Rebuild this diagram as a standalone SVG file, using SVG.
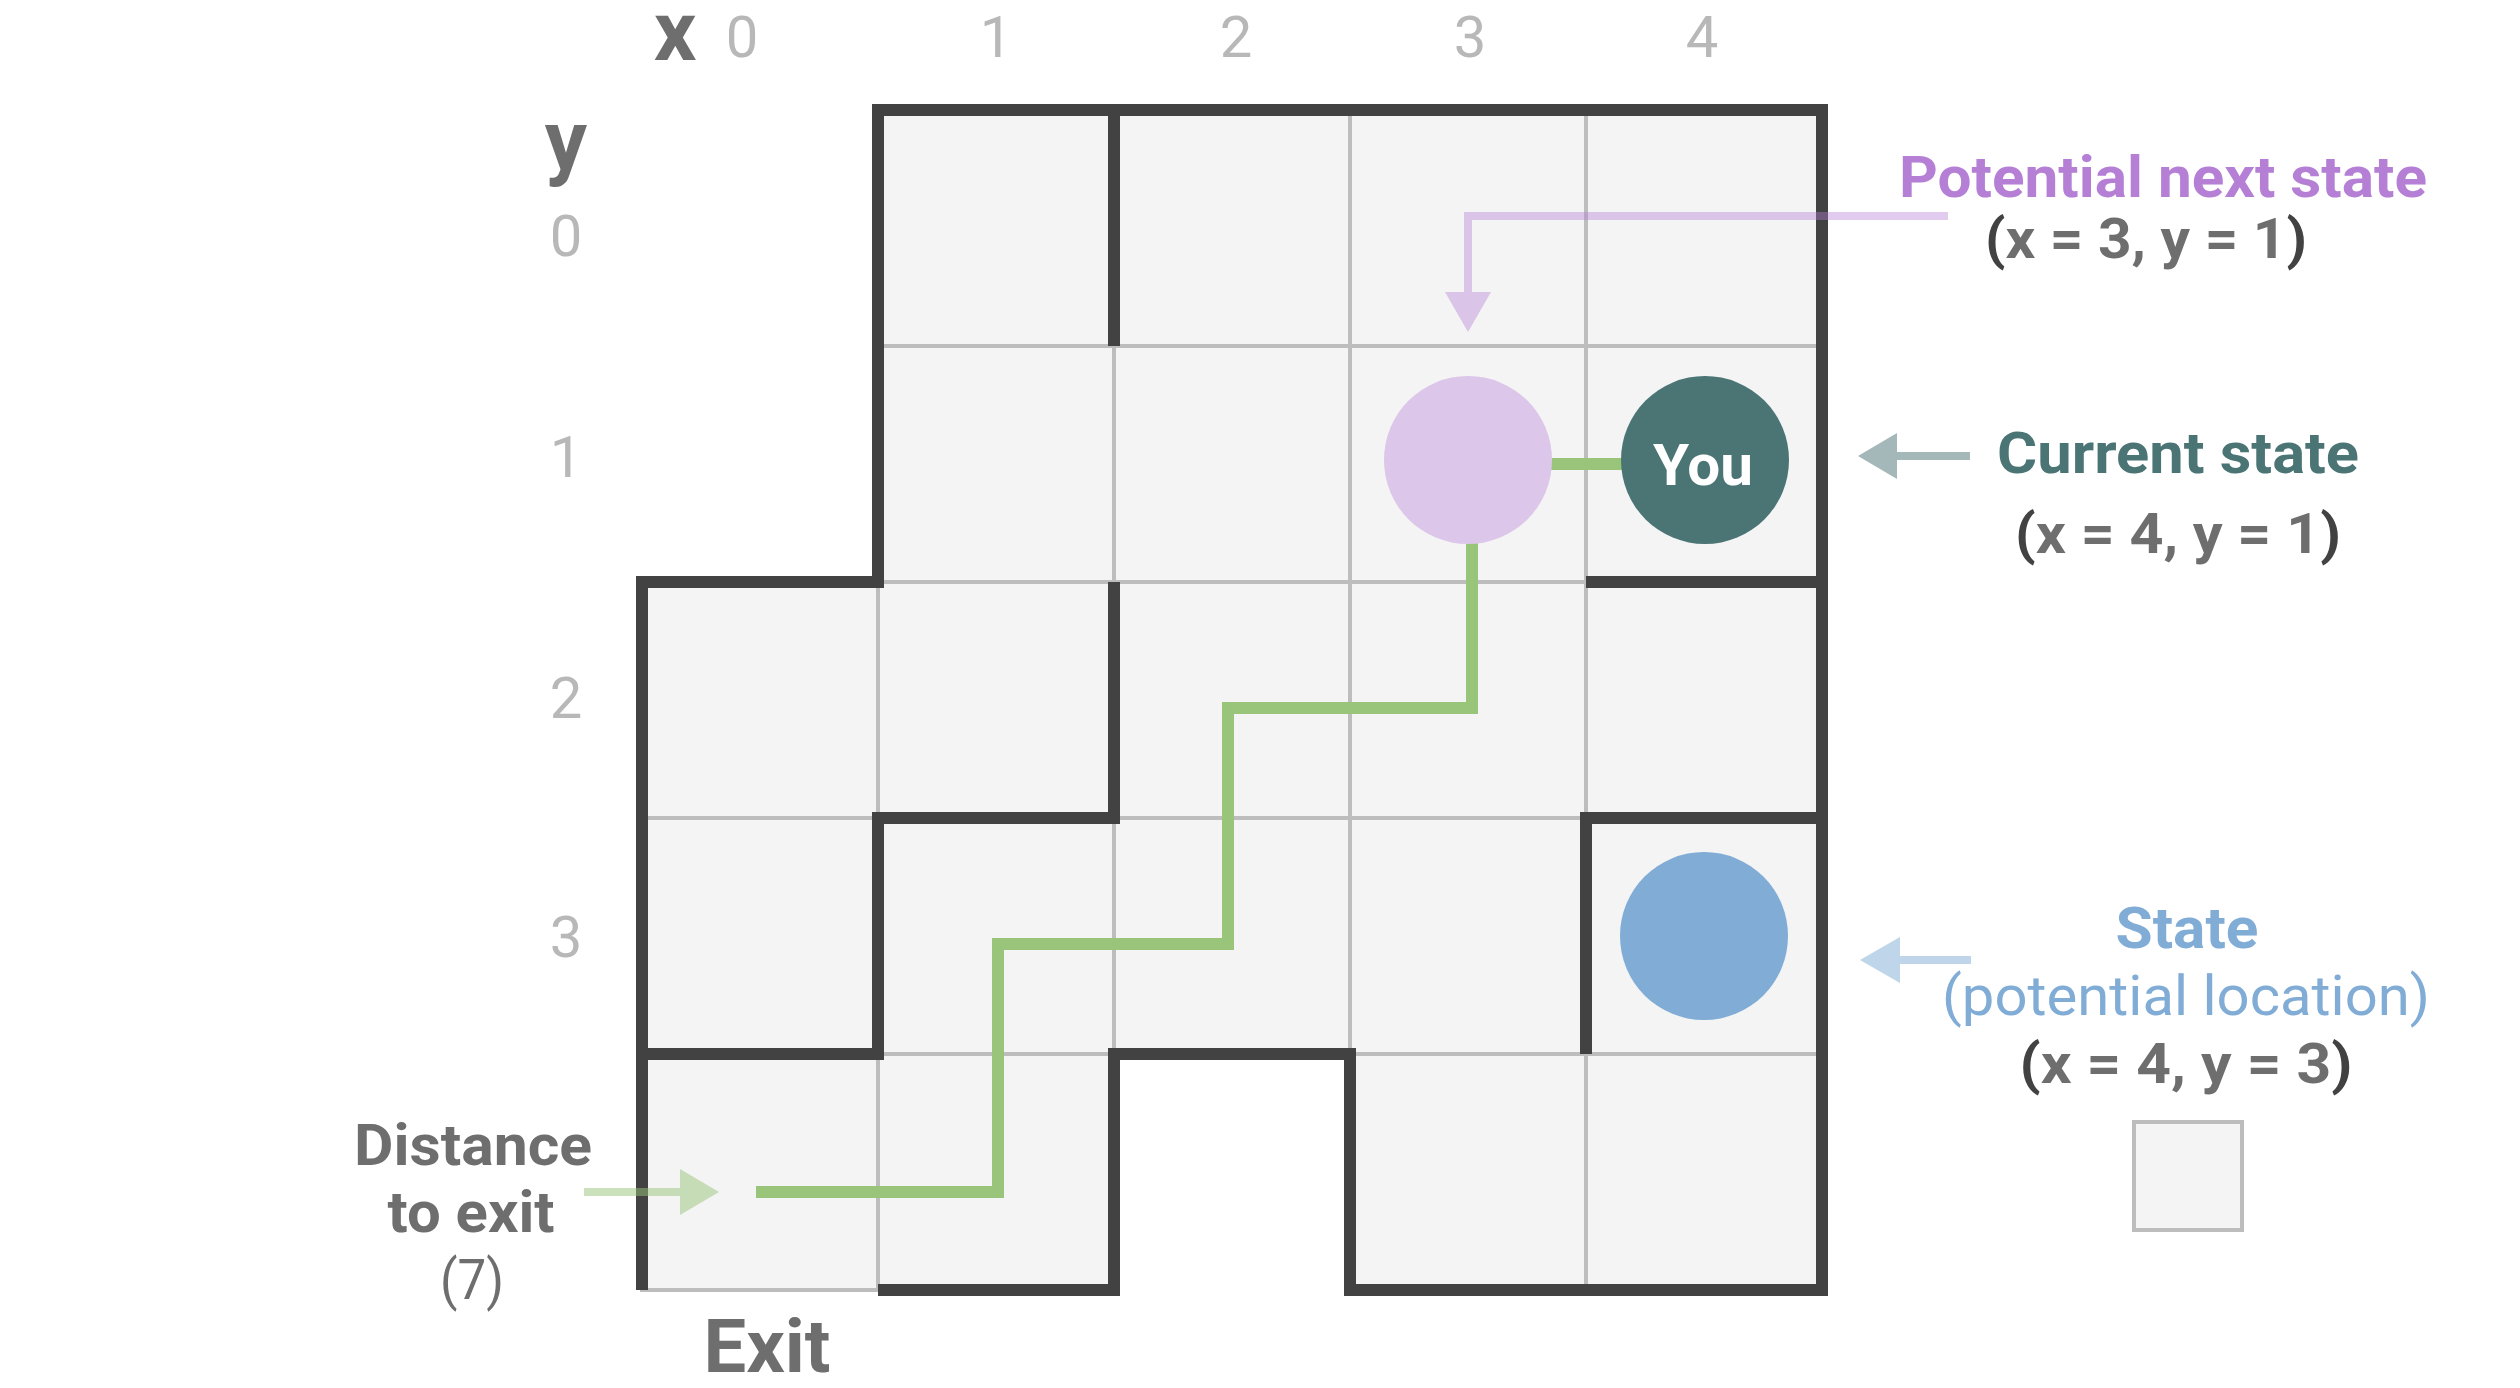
<svg xmlns="http://www.w3.org/2000/svg" width="2520" height="1388" viewBox="0 0 2520 1388">
<style>
  .cell{fill:#f4f4f4;stroke:#bdbdbd;stroke-width:4}
  .wall{fill:none;stroke:#424242;stroke-width:12;stroke-linecap:butt;stroke-linejoin:miter}
  .t{font-family:Roboto,"Liberation Sans",sans-serif;text-anchor:middle}
  .b{font-weight:700}
  .axis{fill:#b8b8b8;font-size:58px}
  .gray{fill:#6e6e6e}
  .par{fill:#424242}
</style>
<rect width="2520" height="1388" fill="#ffffff"/>
<g id="maze-cells">
  <rect class="cell" x="878" y="110" width="236" height="236"/>
  <rect class="cell" x="1114" y="110" width="236" height="236"/>
  <rect class="cell" x="1350" y="110" width="236" height="236"/>
  <rect class="cell" x="1586" y="110" width="236" height="236"/>
  <rect class="cell" x="878" y="346" width="236" height="236"/>
  <rect class="cell" x="1114" y="346" width="236" height="236"/>
  <rect class="cell" x="1350" y="346" width="236" height="236"/>
  <rect class="cell" x="1586" y="346" width="236" height="236"/>
  <rect class="cell" x="642" y="582" width="236" height="236"/>
  <rect class="cell" x="878" y="582" width="236" height="236"/>
  <rect class="cell" x="1114" y="582" width="236" height="236"/>
  <rect class="cell" x="1350" y="582" width="236" height="236"/>
  <rect class="cell" x="1586" y="582" width="236" height="236"/>
  <rect class="cell" x="642" y="818" width="236" height="236"/>
  <rect class="cell" x="878" y="818" width="236" height="236"/>
  <rect class="cell" x="1114" y="818" width="236" height="236"/>
  <rect class="cell" x="1350" y="818" width="236" height="236"/>
  <rect class="cell" x="1586" y="818" width="236" height="236"/>
  <rect class="cell" x="642" y="1054" width="236" height="236"/>
  <rect class="cell" x="878" y="1054" width="236" height="236"/>
  <rect class="cell" x="1350" y="1054" width="236" height="236"/>
  <rect class="cell" x="1586" y="1054" width="236" height="236"/>
</g>
<g id="maze-walls">
  <path class="wall" d="M642,1290 V582 H878 V110 H1822 V1290 H1350 V1054 H1114 V1290 H878"/>
  <path class="wall" d="M1114,110 V346"/>
  <path class="wall" d="M1114,582 V818 H878 V1054 H642"/>
  <path class="wall" d="M1822,582 H1586"/>
  <path class="wall" d="M1822,818 H1586 V1054"/>
</g>
<g id="axes">
  <text class="t b gray" x="675" y="60" font-size="84">x</text>
  <text class="t axis" x="742" y="57">0</text>
  <text class="t axis" x="996" y="57">1</text>
  <text class="t axis" x="1236" y="57">2</text>
  <text class="t axis" x="1470" y="57">3</text>
  <text class="t axis" x="1702" y="57">4</text>
  <text class="t b gray" x="566" y="169" font-size="84">y</text>
  <text class="t axis" x="566" y="256">0</text>
  <text class="t axis" x="566" y="477">1</text>
  <text class="t axis" x="566" y="718">2</text>
  <text class="t axis" x="566" y="957">3</text>
</g>
<g id="connectors">
  <path id="path-to-exit" d="M756,1192 H998 V944 H1228 V708 H1472 V464 H1705" fill="none" stroke="#98c57a" stroke-width="12" stroke-linejoin="miter"/>
  <g id="arrow-next" opacity="0.4" fill="#b57fd6">
    <path d="M1948,216 H1468 V294" fill="none" stroke="#b57fd6" stroke-width="8"/>
    <polygon points="1445,292 1491,292 1468,332"/>
  </g>
  <g id="arrow-current" opacity="0.5" fill="#4b7475">
    <path d="M1970,456 H1895" stroke="#4b7475" stroke-width="8"/>
    <polygon points="1897,433 1897,479 1858,456"/>
  </g>
  <g id="arrow-state" opacity="0.5" fill="#80acd6">
    <path d="M1971,960 H1898" stroke="#80acd6" stroke-width="8"/>
    <polygon points="1900,937 1900,983 1860,960"/>
  </g>
  <g id="arrow-distance" opacity="0.5" fill="#98c57a">
    <path d="M584,1192 H682" stroke="#98c57a" stroke-width="8"/>
    <polygon points="680,1169 680,1215 719,1192"/>
  </g>
</g>
<g id="node-next-state">
  <circle cx="1468" cy="460" r="84" fill="#dcc6e9"/>
</g>
<g id="node-you">
  <circle cx="1705" cy="460" r="84" fill="#4b7475"/>
  <text class="t b" x="1703" y="485" font-size="58" fill="#ffffff" textLength="100" lengthAdjust="spacingAndGlyphs">You</text>
</g>
<g id="node-state">
  <circle cx="1704" cy="936" r="84" fill="#80acd6"/>
</g>
<g id="label-next">
  <text class="t b" x="2163" y="197" font-size="58" fill="#b57fd6" textLength="528" lengthAdjust="spacingAndGlyphs">Potential next state</text>
  <text class="t b gray" x="2146" y="258" font-size="55" textLength="322" lengthAdjust="spacingAndGlyphs"><tspan class="par">(</tspan>x = 3, y = 1<tspan class="par">)</tspan></text>
</g>
<g id="label-current">
  <text class="t b" x="2178" y="473" font-size="57" fill="#4b7475" textLength="362" lengthAdjust="spacingAndGlyphs">Current state</text>
  <text class="t b gray" x="2178" y="553" font-size="55" textLength="326" lengthAdjust="spacingAndGlyphs"><tspan class="par">(</tspan>x = 4, y = 1<tspan class="par">)</tspan></text>
</g>
<g id="label-state">
  <text class="t b" x="2187" y="948" font-size="57" fill="#80acd6" textLength="143" lengthAdjust="spacingAndGlyphs">State</text>
  <text class="t" x="2186" y="1015" font-size="55" fill="#80acd6" textLength="488" lengthAdjust="spacingAndGlyphs">(potential location)</text>
  <text class="t b gray" x="2186" y="1083" font-size="55" textLength="333" lengthAdjust="spacingAndGlyphs"><tspan class="par">(</tspan>x = 4, y = 3<tspan class="par">)</tspan></text>
  <rect x="2134" y="1122" width="108" height="108" fill="#f4f4f4" stroke="#bdbdbd" stroke-width="4"/>
</g>
<g id="label-distance">
  <text class="t b gray" x="473" y="1165" font-size="58" textLength="238" lengthAdjust="spacingAndGlyphs">Distance</text>
  <text class="t b gray" x="471" y="1232" font-size="58" textLength="167" lengthAdjust="spacingAndGlyphs">to exit</text>
  <text class="t gray" x="472" y="1299" font-size="55" textLength="64" lengthAdjust="spacingAndGlyphs">(7)</text>
</g>
<g id="label-exit">
  <text class="t b gray" x="767" y="1372" font-size="75" textLength="127" lengthAdjust="spacingAndGlyphs">Exit</text>
</g>
</svg>
